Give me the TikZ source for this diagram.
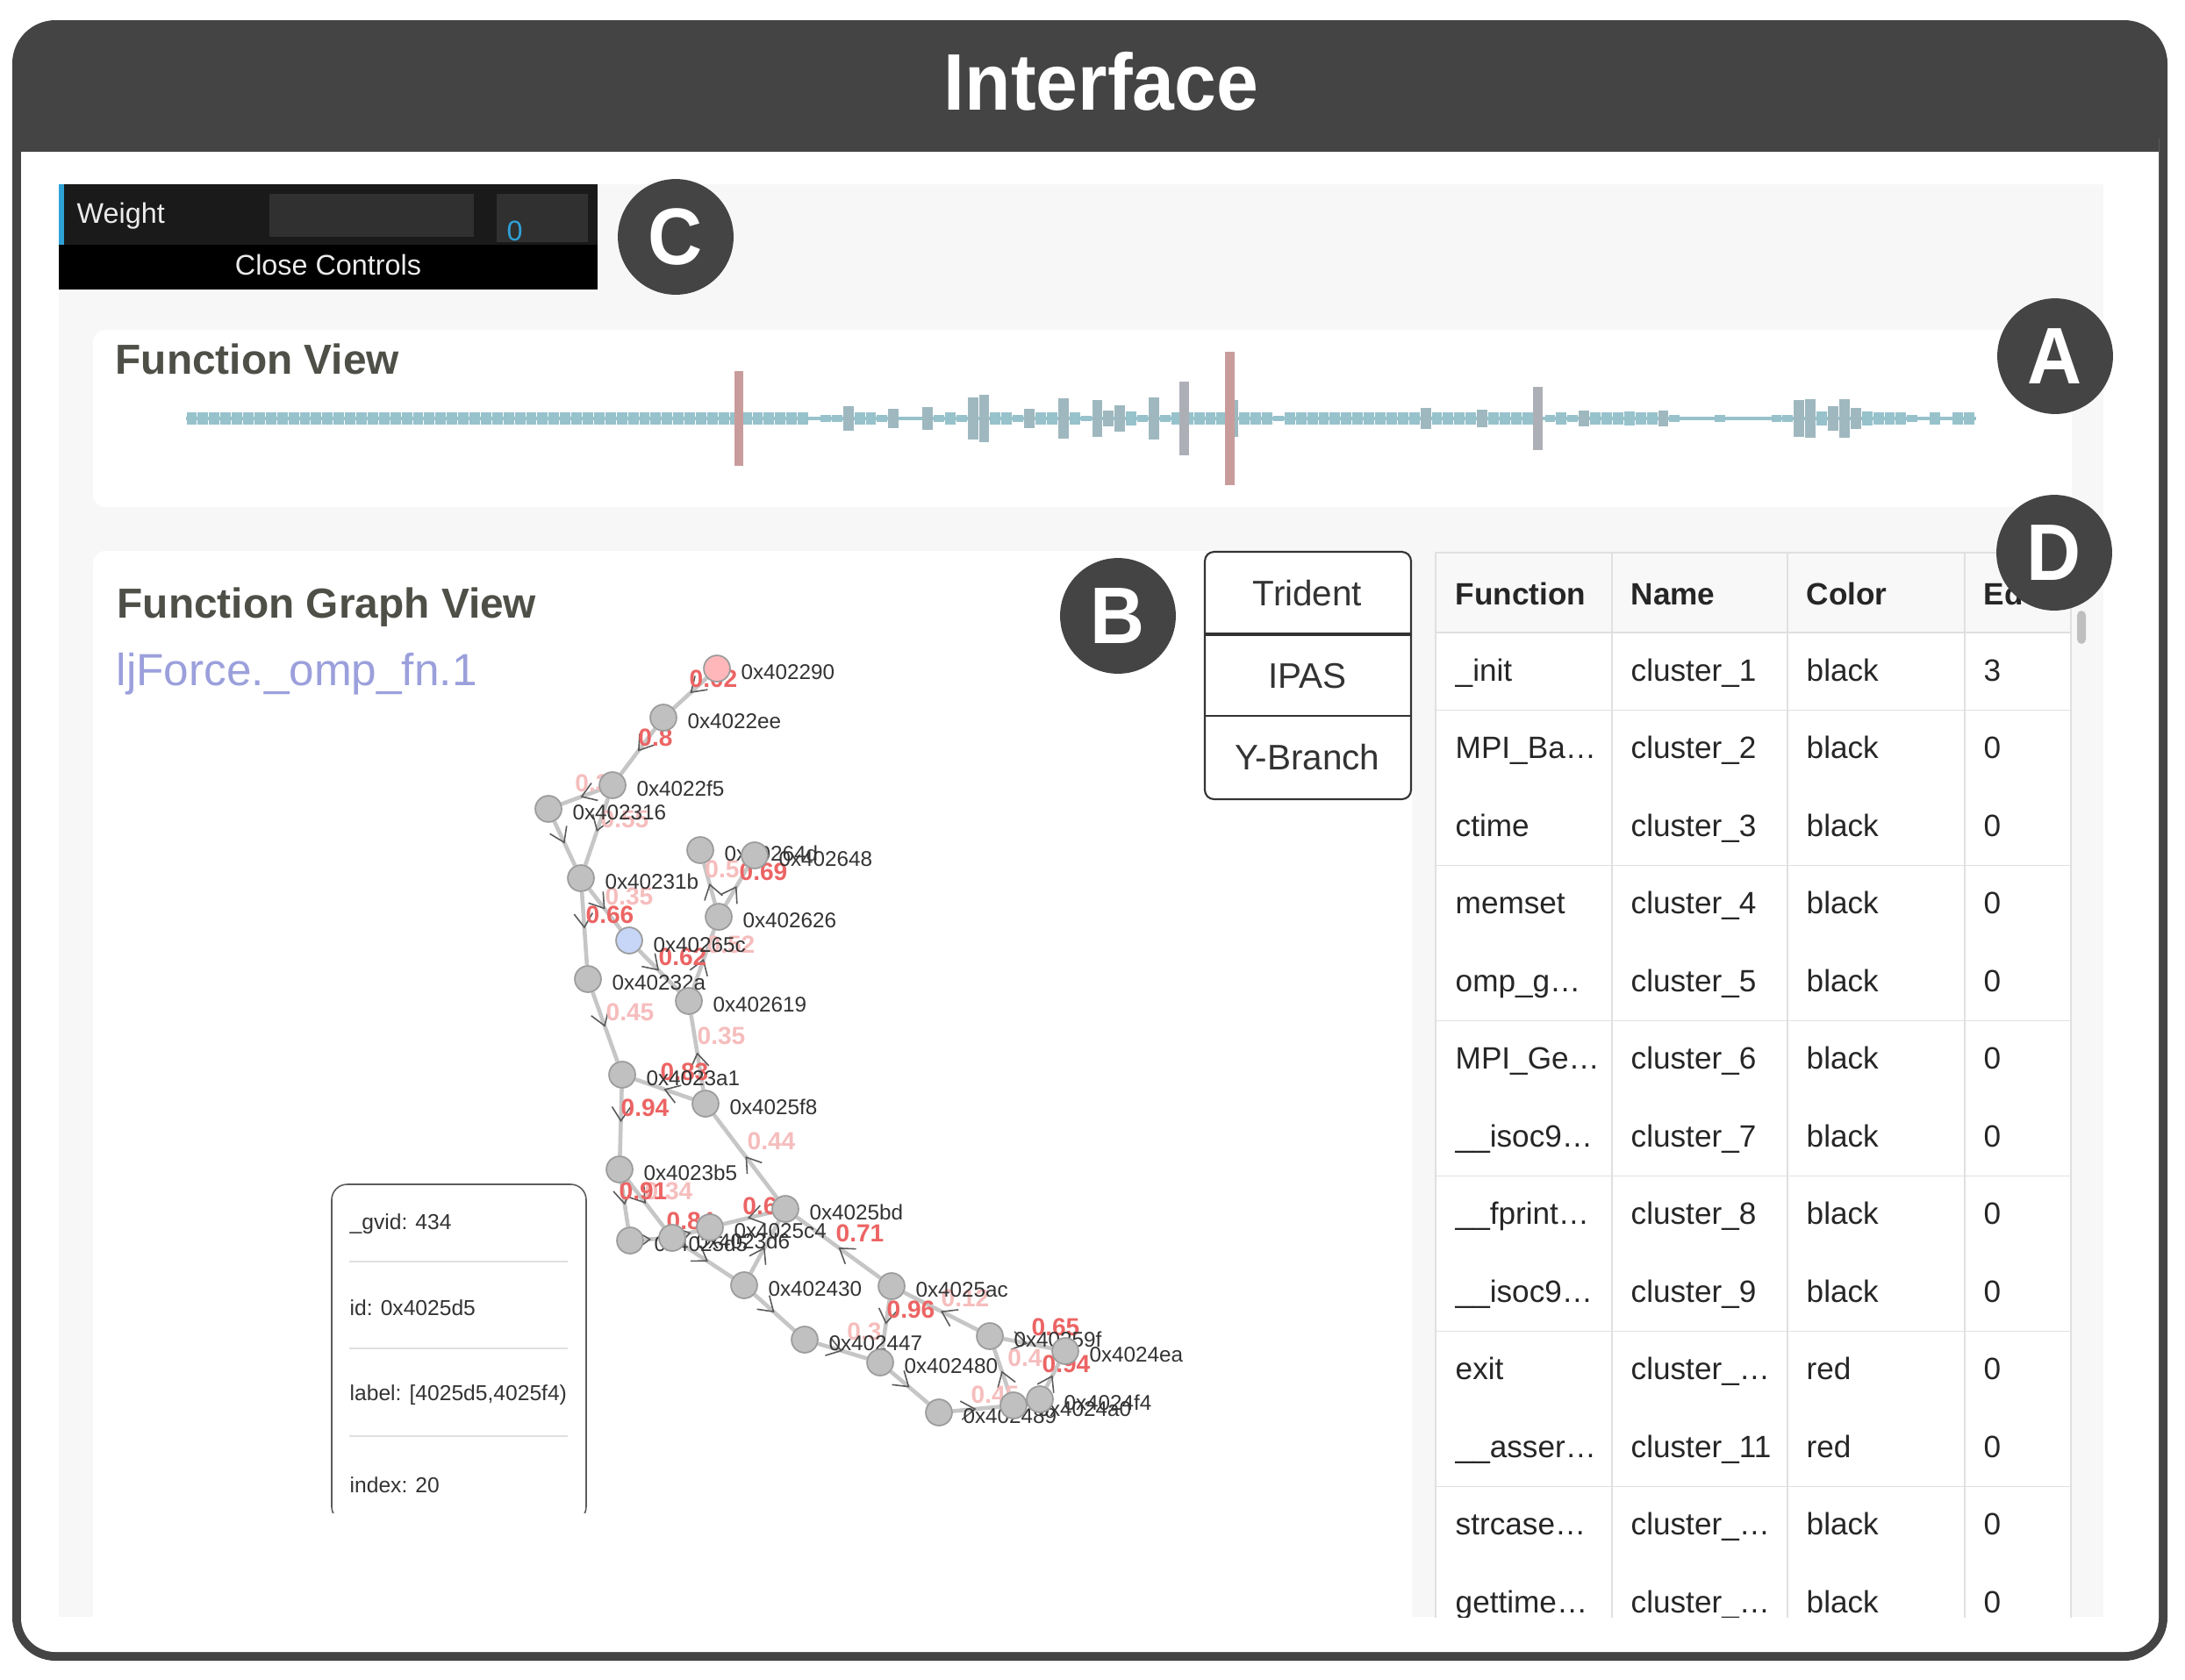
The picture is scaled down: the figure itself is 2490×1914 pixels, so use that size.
\documentclass[tikz,border=0pt]{standalone}
\usepackage{fontspec}
\setmainfont{Liberation Sans}
\newfontfamily\headfont{Liberation Sans}[FakeStretch=0.94]
\usepackage{tikz}
\usetikzlibrary{backgrounds,arrows.meta,decorations.markings}
\definecolor{frameGray}{HTML}{444444}
\definecolor{panelBg}{HTML}{F7F7F7}
\definecolor{barTeal}{HTML}{97C2CB}
\definecolor{barSlate}{HTML}{9FB8BF}
\definecolor{barRed}{HTML}{C99C9C}
\definecolor{barGray}{HTML}{ADAFB7}
\definecolor{titleOlive}{HTML}{4E5048}
\definecolor{lavender}{HTML}{9BA0DC}
\definecolor{vtxFill}{HTML}{C0C0C0}
\definecolor{vtxLine}{HTML}{9C9C9C}
\definecolor{vtxPink}{HTML}{FFB7BA}
\definecolor{vtxBlue}{HTML}{C7D5F6}
\definecolor{edgeGray}{HTML}{C6C6C6}
\definecolor{arrowGray}{HTML}{5A5A5A}
\definecolor{wRed}{HTML}{EC6464}
\definecolor{wPale}{HTML}{F6BDBD}
\definecolor{guiTop}{HTML}{1A1A1A}
\definecolor{guiField}{HTML}{303030}
\definecolor{guiBlue}{HTML}{2FA1D6}
\definecolor{gridLine}{HTML}{E0E0E0}
\definecolor{headBg}{HTML}{F8F8F8}
\definecolor{inkGray}{HTML}{333333}
\tikzstyle{vtx}=[circle, draw=vtxLine, fill=vtxFill, line width=0.5pt, minimum size=8.5pt, inner sep=0pt]
\tikzstyle{addr}=[anchor=west, inner sep=0pt, text=inkGray, font=\fontsize{6.9}{8}\selectfont]
\tikzstyle{wgtRed}=[inner sep=0pt, text=wRed, font=\bfseries\fontsize{8}{9}\selectfont]
\tikzstyle{wgtPale}=[wgtRed, text=wPale]
\tikzstyle{flow}=[draw=edgeGray, line width=1.3pt, postaction={decorate}, decoration={markings, mark=at position 0.5 with {\arrow{Straight Barb[length=4.5pt, width=6pt, line width=0.45pt, color=arrowGray]}}}]
\tikzstyle{badge}=[circle, fill=frameGray, minimum size=37.5pt, inner sep=0pt, text=white, font=\headfont\bfseries\fontsize{26}{28}\selectfont]
\tikzstyle{panelTitle}=[anchor=base west, inner sep=0pt, text=titleOlive, font=\bfseries\fontsize{13.6}{16}\selectfont]
\tikzstyle{cellText}=[anchor=base west, inner sep=0pt, text=black!85, font=\fontsize{10}{12}\selectfont]
\tikzstyle{headText}=[cellText, font=\bfseries\fontsize{10}{12}\selectfont]
\tikzstyle{btnText}=[anchor=base, inner sep=0pt, text=inkGray, font=\fontsize{11.5}{13}\selectfont]
\tikzstyle{tipText}=[anchor=base west, inner sep=0pt, text=inkGray, font=\fontsize{7}{8}\selectfont]
\tikzstyle{guiText}=[inner sep=0pt, text=white!92!black, font=\fontsize{9.2}{11}\selectfont]
\begin{document}
\begin{tikzpicture}[x=0.01cm, y=-0.01cm]
\useasboundingbox (0,0) rectangle (2490,1914);

\begin{scope}[on background layer]
\fill[frameGray, rounded corners=14pt] (14,23) rectangle (2470,1893);
\fill[white, rounded corners=11pt] (24,120) rectangle (2460,1883);
\fill[frameGray] (24,110) rectangle (2460,173);
\fill[panelBg] (67,210) rectangle (2397,1843);
\fill[white, rounded corners=4pt] (106,376) rectangle (2361,578);
\fill[white, rounded corners=4pt] (106,628) rectangle (1609,1870);
\end{scope}

\node (title) at (1255,93) [text=white, inner sep=0pt, font=\headfont\bfseries\fontsize{26}{28}\selectfont] {Interface};

% controls
\fill[guiTop] (67,210) rectangle (681,279);
\fill[black] (67,279) rectangle (681,330);
\fill[guiBlue] (67,210) rectangle (73,279);
\fill[guiField] (307,221) rectangle (540,270);
\fill[guiField] (566,221) rectangle (670,276);
\node (weightLabel) at (87,254) [guiText, anchor=base west] {Weight};
\node (weightValue) at (577,274) [guiText, anchor=base west, text=guiBlue] {0};
\node (closeControls) at (374,313) [guiText, anchor=base] {Close Controls};

% function view
\node (fnViewTitle) at (131,426) [panelTitle] {Function View};
\fill[barTeal] (212,475) rectangle (2252,479);
\foreach \i in {0,...,54} \fill[barTeal] ({212+12.9*\i+0.5},470) rectangle ({212+12.9*\i+12.4},484);
\foreach \h [count=\i from 55] in {2,4,4,14,7,7,4,11,2,2, 13,4,7,4,24,27,7,7,4,11,
  7,7,23,7,3,21,9,15,8,4, 24,4,7,7,7,7,7,21,7,7, 7,3,7,7,7,7,7,7,7,7,
  7,7,7,7,12,7,7,7,7,10, 7,7,7,7,2,4,7,4,9,7, 7,7,8,7,7,9,4,2,2,2,
  4,2,2,2,2,4,4,21,22,8, 14,22,12,8,7,7,7,4,2,7, 2,7,7}
{
  \ifnum\h>8 \def\barColor{barSlate}\else\def\barColor{barTeal}\fi
  \fill[\barColor] ({212+12.9*\i+0.5},{477-\h}) rectangle ({212+12.9*\i+12.4},{477+\h});
}
\fill[barRed] (837,423) rectangle (847,531);
\fill[barGray] (1344,435) rectangle (1355,519);
\fill[barRed] (1396,401) rectangle (1407,553);
\fill[barGray] (1747,441) rectangle (1758,513);

% function graph view
\node (graphTitle) at (133,704) [panelTitle] {Function Graph View};
\node (graphName) at (132,781) [anchor=base west, inner sep=0pt, text=lavender, font=\fontsize{14.6}{17}\selectfont] {ljForce.\_omp\_fn.1};

\node (v402290) [vtx, fill=vtxPink] at (817,762) {};
\path (v402290.east)+(11,4) node (l402290) [addr] {0x402290};
\foreach \n/\x/\y in {4022ee/756/818, 4022f5/698/895, 402316/625/922, 40231b/662/1001,
  40264d/798/969, 402648/860/975, 402626/819/1045, 40232a/670/1116, 402619/785/1141,
  4023a1/709/1225, 4025f8/804/1258, 4023b5/706/1333, 4025bd/895/1378, 4025d5/718/1414,
  4023d6/766/1411, 4025c4/809/1399, 402430/848/1465, 4025ac/1016/1466, 402447/917/1527,
  402480/1003/1553, 40259f/1128/1523, 4024ea/1214/1540, 402489/1070/1610,
  4024a0/1155/1602, 4024f4/1185/1595}
{
  \node (v\n) [vtx] at (\x,\y) {};
  \path (v\n.east)+(11,4) node (l\n) [addr] {0x\n};
}
\node (v40265c) [vtx, fill=vtxBlue] at (717,1072) {};
\path (v40265c.east)+(11,5) node (l40265c) [addr] {0x40265c};

\begin{scope}[on background layer]
\foreach \a/\b in {402290/4022ee, 4022ee/4022f5, 4022f5/402316, 4022f5/40231b, 402316/40231b,
  40231b/40232a, 40231b/40265c, 40265c/402619, 402619/402626, 402626/40264d, 402626/402648,
  40232a/4023a1, 4025f8/402619, 4025f8/4023a1, 4023a1/4023b5, 4025bd/4025f8, 4023b5/4025d5,
  4023b5/4023d6, 4025d5/4023d6, 4023d6/4025c4, 4023d6/402430, 4025bd/4025c4, 402430/4025bd,
  4025ac/4025bd, 402430/402447, 402447/402480, 4025ac/402480, 40259f/4025ac, 402480/402489,
  402489/4024a0, 4024a0/40259f, 40259f/4024ea, 4024f4/4024ea, 4024a0/4024f4}
  \draw[flow] (v\a) -- (v\b);
\foreach \w/\x/\y [count=\k] in {0.3/675/893, 0.55/712/934, 0.35/717/1022, 0.5/823/991,
  0.52/833/1077, 0.45/718/1154, 0.35/822/1181, 0.44/879/1301, 0.34/762/1358, 0.12/1100/1480,
  0.3/985/1518, 0.4/1168/1548, 0.45/1134/1590}
  \node (wp\k) at (\x,\y) [wgtPale] {\w};
\foreach \w/\x/\y [count=\k] in {0.02/813/774, 0.8/747/841, 0.66/695/1043, 0.69/870/994,
  0.62/778/1091, 0.83/780/1222, 0.94/735/1263, 0.91/733/1358, 0.84/787/1392, 0.6/866/1375,
  0.71/980/1406, 0.96/1038/1493, 0.65/1203/1513, 0.94/1215/1555}
  \node (wr\k) at (\x,\y) [wgtRed] {\w};
\end{scope}

% tooltip
\begin{scope}
\clip (370,1340) rectangle (680,1724);
\draw[fill=white, draw=inkGray!80, line width=0.45pt, rounded corners=5pt] (378,1350) rectangle (668,1735);
\end{scope}
\foreach \y in {1438,1537,1637} \draw[gridLine, line width=0.5pt] (398,\y) -- (647,\y);
\node (tipGvid) at (398,1401) [tipText] {\_gvid: 434};
\node (tipId) at (398,1499) [tipText] {id: 0x4025d5};
\node (tipLabel) at (398,1596) [tipText] {label: [4025d5,4025f4)};
\node (tipIndex) at (398,1701) [tipText] {index: 20};

% layout buttons
\draw[fill=white, draw=inkGray, line width=0.6pt, rounded corners=3pt] (1373,629) rectangle (1608,911);
\draw[inkGray, line width=0.9pt] (1373,723) -- (1608,723);
\draw[inkGray, line width=0.6pt] (1373,816) -- (1608,816);
\node (btnTrident) at (1490,690) [btnText] {Trident};
\node (btnIpas) at (1490,784) [btnText] {IPAS};
\node (btnYBranch) at (1490,877) [btnText] {Y-Branch};

% cluster table
\begin{scope}
\clip (1609,600) rectangle (2397,1843);
\fill[white] (1636,630) rectangle (2360,1860);
\fill[headBg] (1636,630) rectangle (2360,721);
\draw[gridLine, line width=0.55pt] (1636,630) rectangle (2360,1900);
\foreach \x in {1837,2037,2239} \draw[gridLine, line width=0.55pt] (\x,630) -- (\x,1860);
\draw[gridLine, line width=0.8pt] (1636,721) -- (2360,721);
\foreach \k in {1,3,5,7,9,11} \draw[gridLine, line width=0.55pt] (1636,{721+88.5*\k}) -- (2360,{721+88.5*\k});
\node (hdFunction) at (1658,689) [headText] {Function};
\node (hdName) at (1858,689) [headText] {Name};
\node (hdColor) at (2058,689) [headText] {Color};
\node (hdEdges) at (2260,689) [headText] {Ed};
\foreach \fnc/\nme/\clr/\edg [count=\r from 0] in {\_init/cluster\_1/black/3, MPI\_Ba…/cluster\_2/black/0,
  ctime/cluster\_3/black/0, memset/cluster\_4/black/0, omp\_g…/cluster\_5/black/0,
  MPI\_Ge…/cluster\_6/black/0, \_\_isoc9…/cluster\_7/black/0, \_\_fprint…/cluster\_8/black/0,
  \_\_isoc9…/cluster\_9/black/0, exit/cluster\_…/red/0, \_\_asser…/cluster\_11/red/0,
  strcase…/cluster\_…/black/0, gettime…/cluster\_…/black/0}
{
  \node (fn\r) at (1658,{776+88.5*\r}) [cellText] {\fnc};
  \node (nm\r) at (1858,{776+88.5*\r}) [cellText] {\nme};
  \node (cl\r) at (2058,{776+88.5*\r}) [cellText] {\clr};
  \node (ed\r) at (2260,{776+88.5*\r}) [cellText] {\edg};
}
\end{scope}
\fill[black!25, rounded corners=1.5pt] (2367,696) rectangle (2377,734);

% markers
\node (badgeC) [badge] at (770,270) {C};
\node (badgeA) [badge] at (2342,406) {A};
\node (badgeB) [badge] at (1274,702) {B};
\node (badgeD) [badge] at (2341,630) {D};
\end{tikzpicture}
\end{document}
